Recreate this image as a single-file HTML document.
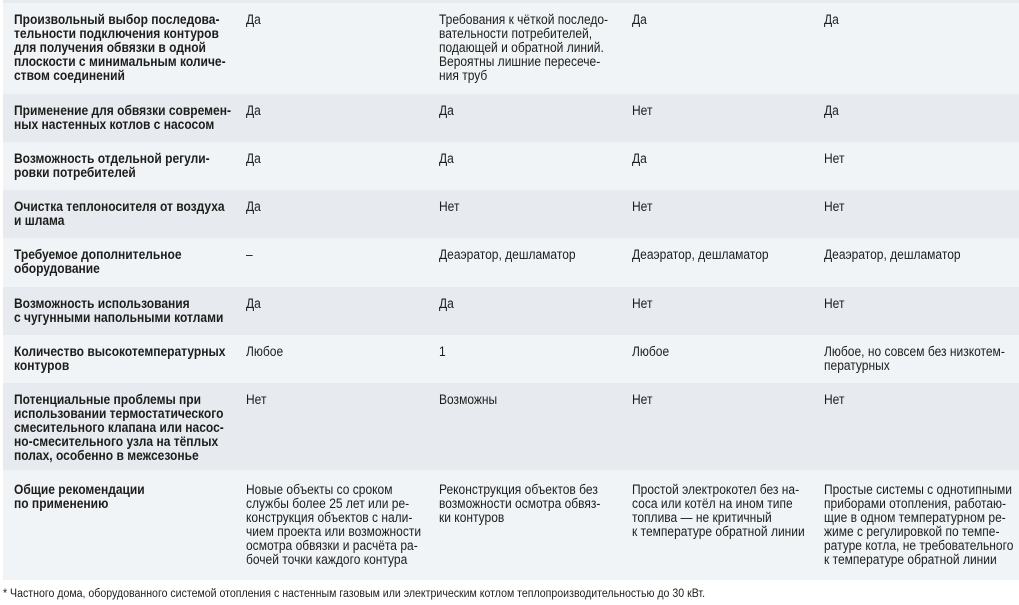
<!DOCTYPE html>
<html><head><meta charset="utf-8"><style>
body{margin:0;width:1019px;height:605px;background:#fff;position:relative;overflow:hidden;font-family:"Liberation Sans Narrow","Liberation Sans",sans-serif;color:#1d1d1b;font-size:13.5px;line-height:14px}
.r{position:absolute;left:3px;width:1016px}
.l{background:#f1f4f7}.d{background:#e7ebef}
.c{position:absolute;top:10px;white-space:nowrap;transform:scaleX(.89);transform-origin:0 0}
.c1{left:11px;font-weight:bold}.c2{left:243px}.c3{left:436px}.c4{left:629px}.c5{left:821px}
.fn{position:absolute;left:3px;top:587px;font-size:11.5px;white-space:nowrap;transform:scaleX(.92);transform-origin:0 0}
</style></head><body>
<div class="r d" style="top:0;height:3px"></div>
<div class="r l" style="top:3px;height:91px">
<div class="c c1">Произвольный выбор последова-<br>тельности подключения контуров<br>для получения обвязки в одной<br>плоскости с минимальным количе-<br>ством соединений</div>
<div class="c c2">Да</div>
<div class="c c3">Требования к чёткой последо-<br>вательности потребителей,<br>подающей и обратной линий.<br>Вероятны лишние пересече-<br>ния труб</div>
<div class="c c4">Да</div><div class="c c5">Да</div></div>
<div class="r d" style="top:94px;height:48px">
<div class="c c1">Применение для обвязки современ-<br>ных настенных котлов с насосом</div>
<div class="c c2">Да</div><div class="c c3">Да</div><div class="c c4">Нет</div><div class="c c5">Да</div></div>
<div class="r l" style="top:142px;height:48px">
<div class="c c1">Возможность отдельной регули-<br>ровки потребителей</div>
<div class="c c2">Да</div><div class="c c3">Да</div><div class="c c4">Да</div><div class="c c5">Нет</div></div>
<div class="r d" style="top:190px;height:48px">
<div class="c c1">Очистка теплоносителя от воздуха<br>и шлама</div>
<div class="c c2">Да</div><div class="c c3">Нет</div><div class="c c4">Нет</div><div class="c c5">Нет</div></div>
<div class="r l" style="top:238px;height:49px">
<div class="c c1">Требуемое дополнительное<br>оборудование</div>
<div class="c c2">–</div><div class="c c3">Деаэратор, дешламатор</div><div class="c c4">Деаэратор, дешламатор</div><div class="c c5">Деаэратор, дешламатор</div></div>
<div class="r d" style="top:287px;height:48px">
<div class="c c1">Возможность использования<br>с чугунными напольными котлами</div>
<div class="c c2">Да</div><div class="c c3">Да</div><div class="c c4">Нет</div><div class="c c5">Нет</div></div>
<div class="r l" style="top:335px;height:48px">
<div class="c c1">Количество высокотемпературных<br>контуров</div>
<div class="c c2">Любое</div><div class="c c3">1</div><div class="c c4">Любое</div><div class="c c5">Любое, но совсем без низкотем-<br>пературных</div></div>
<div class="r d" style="top:383px;height:87px">
<div class="c c1">Потенциальные проблемы при<br>использовании термостатического<br>смесительного клапана или насос-<br>но-смесительного узла на тёплых<br>полах, особенно в межсезонье</div>
<div class="c c2">Нет</div><div class="c c3">Возможны</div><div class="c c4">Нет</div><div class="c c5">Нет</div></div>
<div class="r l" style="top:470px;height:110px">
<div class="c c1" style="top:13px">Общие рекомендации<br>по применению</div>
<div class="c c2" style="top:13px">Новые объекты со сроком<br>службы более 25 лет или ре-<br>конструкция объектов с нали-<br>чием проекта или возможности<br>осмотра обвязки и расчёта ра-<br>бочей точки каждого контура</div>
<div class="c c3" style="top:13px">Реконструкция объектов без<br>возможности осмотра обвяз-<br>ки контуров</div>
<div class="c c4" style="top:13px">Простой электрокотел без на-<br>соса или котёл на ином типе<br>топлива — не критичный<br>к температуре обратной линии</div>
<div class="c c5" style="top:13px">Простые системы с однотипными<br>приборами отопления, работаю-<br>щие в одном температурном ре-<br>жиме с регулировкой по темпе-<br>ратуре котла, не требовательного<br>к температуре обратной линии</div></div>
<div class="fn">* Частного дома, оборудованного системой отопления с настенным газовым или электрическим котлом теплопроизводительностью до 30 кВт.</div>
</body></html>
